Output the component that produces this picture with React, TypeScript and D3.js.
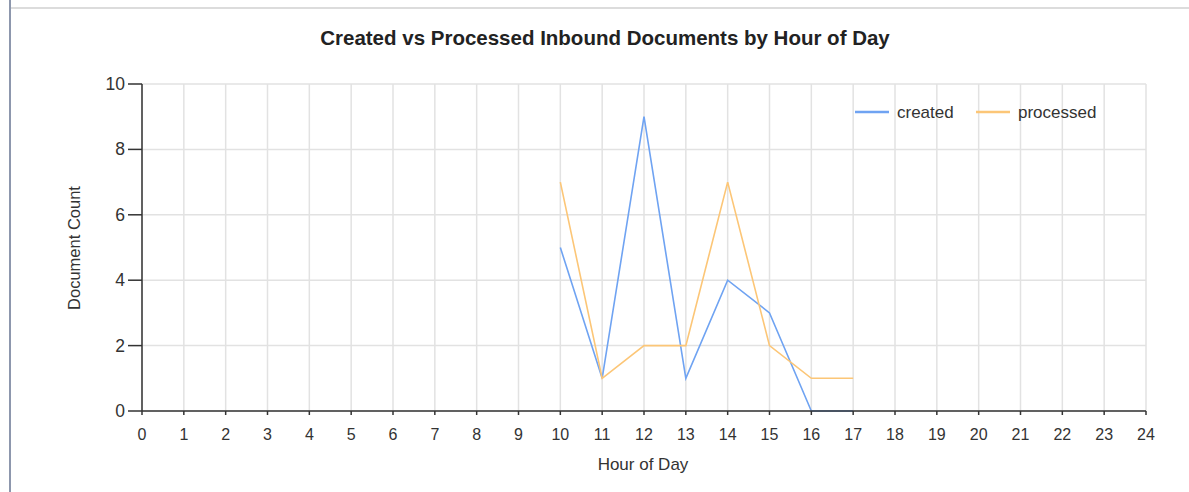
import React from "react";
import * as d3 from "d3";

const hours = [10, 11, 12, 13, 14, 15, 16, 17];
const createdValues = [5, 1, 9, 1, 4, 3, 0, 0];
const processedValues = [7, 1, 2, 2, 7, 2, 1, 1];
const xTicks = d3.range(0, 25);
const yTicks = [0, 2, 4, 6, 8, 10];
const seriesNames = ["created", "processed"];
const colors = ["#6fa3f2", "#fcc677"];

export default function App() {
  const W = 1189, H = 492;
  const x = d3.scaleLinear().domain([0, 24]).range([142, 1146]);
  const y = d3.scaleLinear().domain([0, 10]).range([411, 84]);
  const line = d3.line<[number, number]>().x(d => x(d[0])).y(d => y(d[1]));
  const series = [createdValues, processedValues].map(vals => hours.map((h, i) => [h, vals[i]] as [number, number]));
  const font = "Arial, 'Liberation Sans', sans-serif";
  return (
    <svg width={W} height={H} style={{ position: "absolute", left: 0, top: 0 }} fontFamily={font}>
      <rect x={0} y={0} width={W} height={H} fill="#fff" />
      <line x1={10} x2={W} y1={8} y2={8} stroke="#dcdcdc" strokeWidth={2} />
      <line x1={10} x2={10} y1={0} y2={H} stroke="#8d97ad" strokeWidth={2} />
      <text x={605} y={45} textAnchor="middle" fontSize={20.5} fontWeight="bold" fill="#222">
        Created vs Processed Inbound Documents by Hour of Day
      </text>
      {xTicks.map(t => (
        <line key={"gx" + t} x1={x(t)} x2={x(t)} y1={y(10)} y2={y(0)} stroke="#e2e2e2" strokeWidth={1.5} />
      ))}
      {yTicks.map(t => (
        <line key={"gy" + t} x1={x(0)} x2={x(24)} y1={y(t)} y2={y(t)} stroke="#e2e2e2" strokeWidth={1.5} />
      ))}
      {series.map((s, i) => (
        <path key={i} d={line(s) || ""} fill="none" stroke={colors[i]} strokeWidth={1.6} />
      ))}
      <line x1={x(0)} x2={x(0)} y1={y(10)} y2={y(0)} stroke="#333" strokeWidth={1.5} />
      <line x1={x(0)} x2={x(24)} y1={y(0)} y2={y(0)} stroke="#333" strokeWidth={1.5} />
      {yTicks.map(t => (
        <g key={"ty" + t}>
          <line x1={x(0) - 14} x2={x(0)} y1={y(t)} y2={y(t)} stroke="#333" strokeWidth={1.5} />
          <text x={x(0) - 17} y={y(t) + 6} textAnchor="end" fontSize={17.5} fill="#333">{t}</text>
        </g>
      ))}
      {xTicks.map(t => (
        <g key={"tx" + t}>
          <line x1={x(t)} x2={x(t)} y1={y(0)} y2={y(0) + 4} stroke="#333" strokeWidth={1.5} />
          <text x={x(t)} y={y(0) + 29} textAnchor="middle" fontSize={16} fill="#333">{t}</text>
        </g>
      ))}
      <text x={643} y={470} textAnchor="middle" fontSize={17} fill="#333">Hour of Day</text>
      <text transform={`translate(80,248) rotate(-90)`} textAnchor="middle" fontSize={16.5} fill="#333">Document Count</text>
      {seriesNames.map((n, i) => {
        const lx = [855, 976][i];
        return (
          <g key={n}>
            <line x1={lx} x2={lx + 34} y1={112} y2={112} stroke={colors[i]} strokeWidth={2.5} />
            <text x={lx + 42} y={118} fontSize={17} fill="#333">{n}</text>
          </g>
        );
      })}
    </svg>
  );
}
